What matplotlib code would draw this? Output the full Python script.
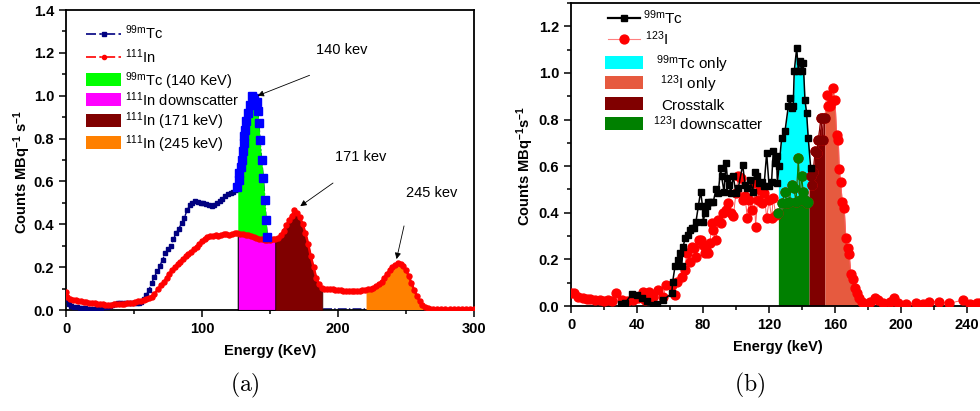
import numpy as np
import matplotlib
matplotlib.use("Agg")
import matplotlib.pyplot as plt
from matplotlib.patches import Rectangle
from matplotlib.lines import Line2D
from matplotlib.ticker import MultipleLocator, FormatStrFormatter

plt.rcParams['font.family'] = ['Liberation Sans', 'DejaVu Sans']
plt.rcParams['mathtext.fontset'] = 'custom'
plt.rcParams['mathtext.rm'] = 'Liberation Sans'
plt.rcParams['mathtext.it'] = 'Liberation Sans:italic'
plt.rcParams['mathtext.bf'] = 'Liberation Sans:bold'

# ---------------- Panel (a) data ----------------
tc_a_x = [0, 2, 4, 6, 8, 10, 12, 14, 16, 18, 20, 22, 24, 26, 28, 30, 32, 34, 36, 38, 40, 42, 44,
          46, 48, 50, 52, 54, 55, 57, 59, 61, 63, 65,
          67, 69, 71, 73, 75, 77, 79, 81, 83, 85, 87, 89, 91, 93, 95, 97, 99, 101, 103, 105, 107,
          109, 111, 113, 115, 117, 119, 121, 123, 125]
tc_a_y = [0.05, 0.03, 0.02, 0.015, 0.012, 0.01, 0.009, 0.008, 0.007, 0.007, 0.007, 0.007, 0.008,
          0.01, 0.012, 0.016, 0.02, 0.024, 0.028, 0.031, 0.033, 0.034, 0.035, 0.034, 0.032, 0.031,
          0.031, 0.034, 0.038, 0.05, 0.07, 0.095, 0.125, 0.155, 0.18, 0.205, 0.235,
          0.265, 0.285, 0.3, 0.33, 0.36, 0.38, 0.405, 0.43, 0.465, 0.49, 0.5, 0.51, 0.505, 0.5,
          0.5, 0.495, 0.49, 0.485, 0.49, 0.5, 0.51, 0.52, 0.53, 0.54, 0.545, 0.55, 0.56]
tc_peak_x = [126, 127.5, 127.5, 128.7, 129.4, 129.9, 130.9, 131.1, 131.8, 132.4, 133.8, 135.3,
             136.5, 138.2, 140.2, 140.9, 141.9, 142.6, 143.9, 145.1, 146.3, 147.1, 148.0]
tc_peak_y = [0.576, 0.607, 0.639, 0.667, 0.7, 0.74, 0.779, 0.81, 0.84, 0.88, 0.919, 0.958,
             1.0, 0.989, 0.973, 0.927, 0.872, 0.794, 0.7, 0.615, 0.514, 0.42, 0.343]
tc_tail_x = [149, 150, 152, 160, 170, 180, 190, 200, 210, 220]
tc_tail_y = [0.2, 0.05, 0.01, 0.005, 0.005, 0.005, 0.005, 0.005, 0.005, 0.005]

in_a_x = [0, 1, 3, 5, 7, 9, 11, 13, 15, 17, 19, 21, 23, 25, 27, 29, 31, 33, 35, 37, 39, 41, 43,
          45, 47, 49, 51, 53, 55, 57, 59, 61, 63, 65, 68, 70, 72, 74,
          76, 78, 80, 82, 84, 86, 88, 90, 92, 94, 96, 98, 100, 102, 104, 106, 108, 110, 112, 114,
          116, 118, 120, 122, 124, 126, 128, 130, 132, 134, 136, 138, 140, 142, 144, 146, 148,
          150, 152, 154, 156, 158, 160, 162, 164, 166, 168, 170, 172, 174, 176, 178, 180, 182,
          184, 186, 188, 190, 192, 194, 196, 198, 200, 202, 204, 206, 208, 210, 212, 214, 216,
          218, 220, 222, 224, 226, 228, 230, 232, 234, 236, 238, 240, 242, 244, 246, 248, 250,
          252, 254, 256, 258, 260, 262, 264, 266, 268, 270,
          273, 276, 279, 282, 285, 288, 291, 294, 297, 300]
in_a_y = [0.085, 0.06, 0.05, 0.047, 0.045, 0.043, 0.04, 0.038, 0.036, 0.034, 0.033, 0.031, 0.029,
          0.027, 0.026, 0.025, 0.024, 0.025, 0.026, 0.027, 0.028, 0.029, 0.03, 0.032, 0.033,
          0.035, 0.037, 0.04, 0.043, 0.047, 0.05, 0.055, 0.06, 0.075, 0.1, 0.115, 0.13, 0.15,
          0.17, 0.185, 0.2, 0.215,
          0.225, 0.24, 0.25, 0.26, 0.27, 0.285, 0.295, 0.31, 0.32, 0.33, 0.34, 0.345, 0.345, 0.35,
          0.345, 0.35, 0.355, 0.355, 0.35, 0.355, 0.36, 0.36, 0.355, 0.355, 0.35, 0.35, 0.345,
          0.34, 0.335, 0.33, 0.33, 0.325, 0.325, 0.325, 0.33, 0.33, 0.335, 0.35, 0.37, 0.395,
          0.42, 0.44, 0.465, 0.455, 0.435, 0.40, 0.36, 0.31, 0.25, 0.2, 0.15, 0.12, 0.105, 0.1,
          0.1, 0.098, 0.097, 0.095, 0.094, 0.092, 0.091, 0.09, 0.09, 0.09, 0.09, 0.09, 0.091,
          0.092, 0.094, 0.096, 0.1, 0.105, 0.112, 0.12, 0.132, 0.15, 0.17, 0.185, 0.2, 0.21,
          0.218, 0.216, 0.205, 0.185, 0.16, 0.125, 0.093, 0.065, 0.04, 0.025, 0.015, 0.008,
          0.005, 0.004,
          0.003, 0.003, 0.003, 0.003, 0.003, 0.003, 0.003, 0.003, 0.003, 0.003]

win_tc_a = (126.3, 148.6)
win_down_a = (126.3, 154.0)
win_171 = (154.0, 188.5)
win_245 = (221.0, 268.0)

# ---------------- Panel (b) data ----------------
tc_b_x = [30, 33, 36.7, 39.8, 42.8, 46, 49.9, 52, 55.9, 61, 61.6, 63, 65, 66, 67, 68, 69, 71, 72,
          73, 74.5, 75.7, 77.1, 78.5, 79.7, 80.1, 81.1, 82.2, 83.2, 84.6, 86.2, 87.8, 89.2, 90.6,
          91.2, 92.7, 93.9, 94.7, 95.9, 96.7, 98.3, 99.9, 101.3, 104, 105.4, 106.8, 108.4, 110,
          111.4, 112.4, 114, 115.5, 116.9, 118.5, 120, 121.5, 122.5, 123.5, 124.5, 125, 126,
          127.6, 129.6, 131.6, 132.6, 133.6, 134.6, 135.2, 136.7, 137.7, 138.7, 139.7, 140.7,
          141.7, 142.7, 143.7, 145.2]
tc_b_y = [0.01, 0.015, 0.05, 0.047, 0.033, 0.02, 0.004, 0.01, 0.026, 0.054, 0.105, 0.17, 0.198,
          0.226, 0.17, 0.255, 0.29, 0.305, 0.326, 0.334, 0.334, 0.362, 0.427, 0.49, 0.427, 0.362,
          0.398, 0.427, 0.448, 0.448, 0.448, 0.5, 0.484, 0.59, 0.556, 0.49, 0.613, 0.55, 0.52,
          0.484, 0.556, 0.484, 0.505, 0.606, 0.52, 0.505, 0.541, 0.49, 0.577, 0.556, 0.527,
          0.534, 0.513, 0.656, 0.513, 0.534, 0.663, 0.613, 0.642, 0.527, 0.6, 0.72, 0.749,
          0.856, 0.892, 0.849, 0.856, 1.007, 1.107, 1.007, 1.05, 1.007, 1.043, 0.885, 0.828,
          0.72, 0.591]

i_b_x = [0, 1.8, 4.4, 7.5, 9.5, 11.5, 14.5, 17.6, 20, 22.6, 25, 27.3, 30.7, 33.7, 37.7, 40.8,
         43.8, 44.8, 47.4, 49.9, 52.9, 55.9, 57.5, 61, 63, 64, 67, 69, 70, 72, 73, 74.5, 76,
         77.5, 78.7, 80, 81, 82, 83.2, 84.2, 85.2, 86.2, 87.8, 89.2, 90.6, 92.2, 94, 95.3, 96.7,
         98.3, 99.9, 101.3, 102.7, 104, 105.4, 106.8, 108, 109.4, 110.8, 111.8, 113, 114.5,
         115.9, 117, 118.5, 120, 121.5, 122.5, 124, 125.6, 127.6, 129.6, 130.6, 132.2, 133.6,
         135, 136.3, 137.7, 138.7, 139.7, 140.7, 141.7, 142.7, 143.7, 145.4, 145.8, 146.8,
         147.8, 148.8, 149.8, 151.4, 152.4, 152.8, 153.8, 154.8, 155.8, 156.8, 157.9, 158.5,
         159.9, 160.9, 161.9, 162.5, 163.3, 164.3, 165.5, 166.5, 167.5, 168.5, 169.6, 170.6,
         172, 173, 174.6, 176, 178, 181, 184, 186, 189, 193, 195.6, 198, 203, 209, 213, 217,
         223, 229, 237.6, 241.6, 245.7, 248]
i_b_y = [0.054, 0.054, 0.04, 0.033, 0.03, 0.029, 0.027, 0.024, 0.022, 0.026, 0.02, 0.054, 0.024,
         0.02, 0.024, 0.033, 0.058, 0.026, 0.058, 0.04, 0.067, 0.04, 0.09, 0.09, 0.047, 0.105,
         0.126, 0.155, 0.226, 0.19, 0.255, 0.248, 0.212, 0.284, 0.284, 0.262, 0.226, 0.24,
         0.226, 0.27, 0.355, 0.326, 0.284, 0.37, 0.355, 0.398, 0.412, 0.441, 0.398, 0.384,
         0.484, 0.556, 0.548, 0.455, 0.47, 0.377, 0.455, 0.412, 0.527, 0.341, 0.455, 0.498,
         0.441, 0.484, 0.377, 0.455, 0.377, 0.463, 0.391, 0.398, 0.441, 0.487, 0.441, 0.448,
         0.52, 0.505, 0.448, 0.634, 0.455, 0.558, 0.487, 0.455, 0.441, 0.448, 0.556, 0.52,
         0.577, 0.663, 0.656, 0.713, 0.806, 0.713, 0.806, 0.806, 0.906, 0.856, 0.856, 0.878,
         0.935, 0.885, 0.735, 0.713, 0.589, 0.534, 0.448, 0.42, 0.291, 0.248, 0.223, 0.137,
         0.115, 0.076, 0.054, 0.033, 0.019, 0.009, 0.019, 0.033, 0.026, 0.011, 0.019, 0.033,
         0.011, 0.009, 0.011, 0.009, 0.019, 0.019, 0.011, 0.026, 0.009, 0.011, 0.011]

down_b_x = [125.6, 128, 130, 132, 134, 136, 138, 140, 142, 144.2]
down_b_y = [0.40, 0.42, 0.43, 0.43, 0.44, 0.43, 0.44, 0.44, 0.44, 0.45]

win_tc_b = (125.6, 144.2)
win_cross = (144.2, 153.8)
win_ionly = (153.8, 176.0)

legend_a_labels = [r'$^{\mathrm{99m}}$Tc', r'$^{\mathrm{111}}$In', r'$^{\mathrm{99m}}$Tc (140 KeV)',
                   r'$^{\mathrm{111}}$In downscatter', r'$^{\mathrm{111}}$In (171 keV)',
                   r'$^{\mathrm{111}}$In (245 keV)']
legend_b_labels = [r'$^{\mathrm{99m}}$Tc', r'$^{\mathrm{123}}$I', r'$^{\mathrm{99m}}$Tc only',
                   r'$^{\mathrm{123}}$I only', 'Crosstalk', r'$^{\mathrm{123}}$I downscatter']

# ---------------- Figure ----------------
W, H = 980, 411
fig = plt.figure(figsize=(9.8, 4.11), dpi=100)
axA = fig.add_axes([66/W, 1-310/H, 408/W, 300/H])
axB = fig.add_axes([571/W, 1-306/H, 412.75/W, 303/H])

def fx(px):
    return px / W

def fy(py):
    return 1 - py / H

def style_axes(ax):
    for s in ax.spines.values():
        s.set_linewidth(1.3)
    ax.tick_params(which='both', direction='out', top=False, right=False, width=1.1)
    ax.tick_params(which='major', length=5, labelsize=10.5)
    ax.tick_params(which='minor', length=3)
    for lab in ax.get_xticklabels() + ax.get_yticklabels():
        lab.set_fontweight('bold')

# ---- Panel (a)
tc_all_x = np.array(tc_a_x + tc_peak_x + tc_tail_x)
tc_all_y = np.array(tc_a_y + tc_peak_y + tc_tail_y)
in_x = np.array(in_a_x); in_y = np.array(in_a_y)

axA.plot(tc_all_x, tc_all_y, color='#000080', lw=1.0, ls='-.', zorder=2)
axA.plot(tc_a_x, tc_a_y, ls='none', marker='s', ms=2.6, color='#000080', zorder=3)

g = np.linspace(*win_tc_a, 60)
lo = np.interp(g, in_x, in_y); hi = np.interp(g, tc_all_x, tc_all_y)
axA.fill_between(g, lo, hi, where=hi >= lo, color='#00ff00', lw=0, zorder=4)
g = np.linspace(*win_down_a, 60)
axA.fill_between(g, 0, np.interp(g, in_x, in_y), facecolor='#ff00ff', edgecolor='black', lw=0.8, zorder=4)
g = np.linspace(*win_171, 80)
axA.fill_between(g, 0, np.interp(g, in_x, in_y), facecolor='#800000', edgecolor='#400000', lw=0.5, zorder=4)
g = np.linspace(*win_245, 80)
axA.fill_between(g, 0, np.interp(g, in_x, in_y), facecolor='#ff8000', lw=0, zorder=4)

axA.plot(in_x, in_y, color='red', lw=1.8, ls='-', marker='o', ms=3.6, zorder=5)
axA.plot(tc_peak_x, tc_peak_y, ls='none', marker='s', ms=5.2, color='#0000ff', zorder=6)

axA.set_xlim(0, 300)
axA.set_ylim(0, 1.4)
axA.xaxis.set_major_locator(MultipleLocator(100))
axA.xaxis.set_minor_locator(MultipleLocator(50))
axA.yaxis.set_major_locator(MultipleLocator(0.2))
axA.yaxis.set_minor_locator(MultipleLocator(0.1))
axA.yaxis.set_major_formatter(FormatStrFormatter('%.1f'))
style_axes(axA)
axA.set_xlabel('Energy (KeV)', fontsize=10.5, fontweight='bold', labelpad=6)
axA.set_ylabel(r'Counts MBq$^{\mathbf{-1}}$ s$^{\mathbf{-1}}$', fontsize=10.5, fontweight='bold')
axA.yaxis.set_label_coords(-0.081, 0.46)

arr = dict(arrowstyle='-|>', color='black', lw=0.6, mutation_scale=9)
axA.annotate('', xy=(139, 0.995), xytext=(181, 1.10), arrowprops=arr, zorder=7)
axA.annotate('', xy=(170.6, 0.477), xytext=(198, 0.60), arrowprops=arr, zorder=7)
axA.annotate('', xy=(242.6, 0.225), xytext=(249, 0.405), arrowprops=arr, zorder=7)
axA.text(203, 1.215, '140 kev', ha='center', va='center', fontsize=10.5)
axA.text(217, 0.715, '171 kev', ha='center', va='center', fontsize=10.5)
axA.text(269, 0.547, '245 kev', ha='center', va='center', fontsize=10.5)

# manual legend (a)
rows_a = [34, 57, 80, 100, 121, 143]
line_styles_a = [dict(color='#000080', marker='s', ms=3), dict(color='red', marker='o', ms=3)]
for r, st in zip(rows_a[:2], line_styles_a):
    fig.add_artist(Line2D([fx(86), fx(121)], [fy(r), fy(r)], ls=(0, (6, 2, 1.5, 2)), lw=1.2,
                          color=st['color'], transform=fig.transFigure))
    fig.add_artist(Line2D([fx(103.5)], [fy(r)], ls='none', transform=fig.transFigure, **st))
for r, c in zip(rows_a[2:], ['#00ff00', '#ff00ff', '#800000', '#ff8000']):
    fig.add_artist(Rectangle((fx(86), fy(r + 6.5)), fx(35), 13/H, facecolor=c, edgecolor='none',
                             transform=fig.transFigure))
for r, lab in zip(rows_a, legend_a_labels):
    fig.text(fx(125), fy(r + 5.5), lab, fontsize=10.5, ha='left', va='baseline')

# ---- Panel (b)
tcb_x = np.array(tc_b_x); tcb_y = np.array(tc_b_y)
ib_x = np.array(i_b_x); ib_y = np.array(i_b_y)

g = np.linspace(*win_tc_b, 60)
axB.fill_between(g, np.interp(g, down_b_x, down_b_y), np.interp(g, tcb_x, tcb_y), color='#00ffff', lw=0, zorder=2)
axB.fill_between(g, 0, np.interp(g, down_b_x, down_b_y), color='#008000', lw=0, zorder=2)
g = np.linspace(*win_cross, 40)
axB.fill_between(g, 0, np.interp(g, ib_x, ib_y), color='#800000', lw=0, zorder=2)
g = np.linspace(*win_ionly, 60)
axB.fill_between(g, 0, np.interp(g, ib_x, ib_y), color='#e65a3f', lw=0, zorder=2)

axB.plot(ib_x, ib_y, color='#ff6060', lw=0.7, marker='o', ms=6.4, mfc='red', mec='red', zorder=3)
m_g = (ib_x >= win_tc_b[0]) & (ib_x <= win_tc_b[1])
axB.plot(ib_x[m_g], ib_y[m_g], color='#008000', lw=0.8, marker='o', ms=6.4, zorder=4)
m_c = (ib_x > win_cross[0]) & (ib_x <= win_cross[1])
axB.plot(ib_x[m_c], ib_y[m_c], color='#800000', lw=0.8, marker='o', ms=6.4, zorder=4)
axB.plot(tcb_x, tcb_y, color='black', lw=1.1, marker='s', ms=5, zorder=5)

axB.set_xlim(0, 250)
axB.set_ylim(0, 1.3)
axB.xaxis.set_major_locator(MultipleLocator(40))
axB.xaxis.set_minor_locator(MultipleLocator(20))
axB.yaxis.set_major_locator(MultipleLocator(0.2))
axB.yaxis.set_minor_locator(MultipleLocator(0.1))
axB.yaxis.set_major_formatter(FormatStrFormatter('%.1f'))
style_axes(axB)
axB.set_xlabel('Energy (keV)', fontsize=10.5, fontweight='bold', labelpad=6)
axB.set_ylabel(r'Counts MBq$^{\mathbf{-1}}$s$^{\mathbf{-1}}$', fontsize=10.5, fontweight='bold')
axB.yaxis.set_label_coords(-0.085, 0.462)

# manual legend (b)
fig.add_artist(Line2D([fx(608), fx(640)], [fy(18), fy(18)], color='black', lw=1.6, transform=fig.transFigure))
fig.add_artist(Line2D([fx(624)], [fy(18)], ls='none', marker='s', ms=5, color='black', transform=fig.transFigure))
fig.add_artist(Line2D([fx(608), fx(640)], [fy(39), fy(39)], color='#ff8080', lw=0.8, transform=fig.transFigure))
fig.add_artist(Line2D([fx(624)], [fy(39)], ls='none', marker='o', ms=6.4, color='red', transform=fig.transFigure))
rows_b = [63, 83, 104, 124]
for r, c in zip(rows_b, ['#00ffff', '#e65a3f', '#800000', '#008000']):
    fig.add_artist(Rectangle((fx(605), fy(r + 6.5)), fx(38), 13/H, facecolor=c, edgecolor='none',
                             transform=fig.transFigure))
text_x_b = [643, 645, 656, 660, 661, 653]
for r, x0, lab in zip([18, 39] + rows_b, text_x_b, legend_b_labels):
    fig.text(fx(x0), fy(r + 6), lab, fontsize=11, ha='left', va='baseline')

fig.text(245/W, 1-385/H, r'$\mathrm{(a)}$', math_fontfamily='cm', fontsize=17, ha='center', va='center')
fig.text(750/W, 1-385/H, r'$\mathrm{(b)}$', math_fontfamily='cm', fontsize=17, ha='center', va='center')

fig.savefig('out.png', dpi=100)
